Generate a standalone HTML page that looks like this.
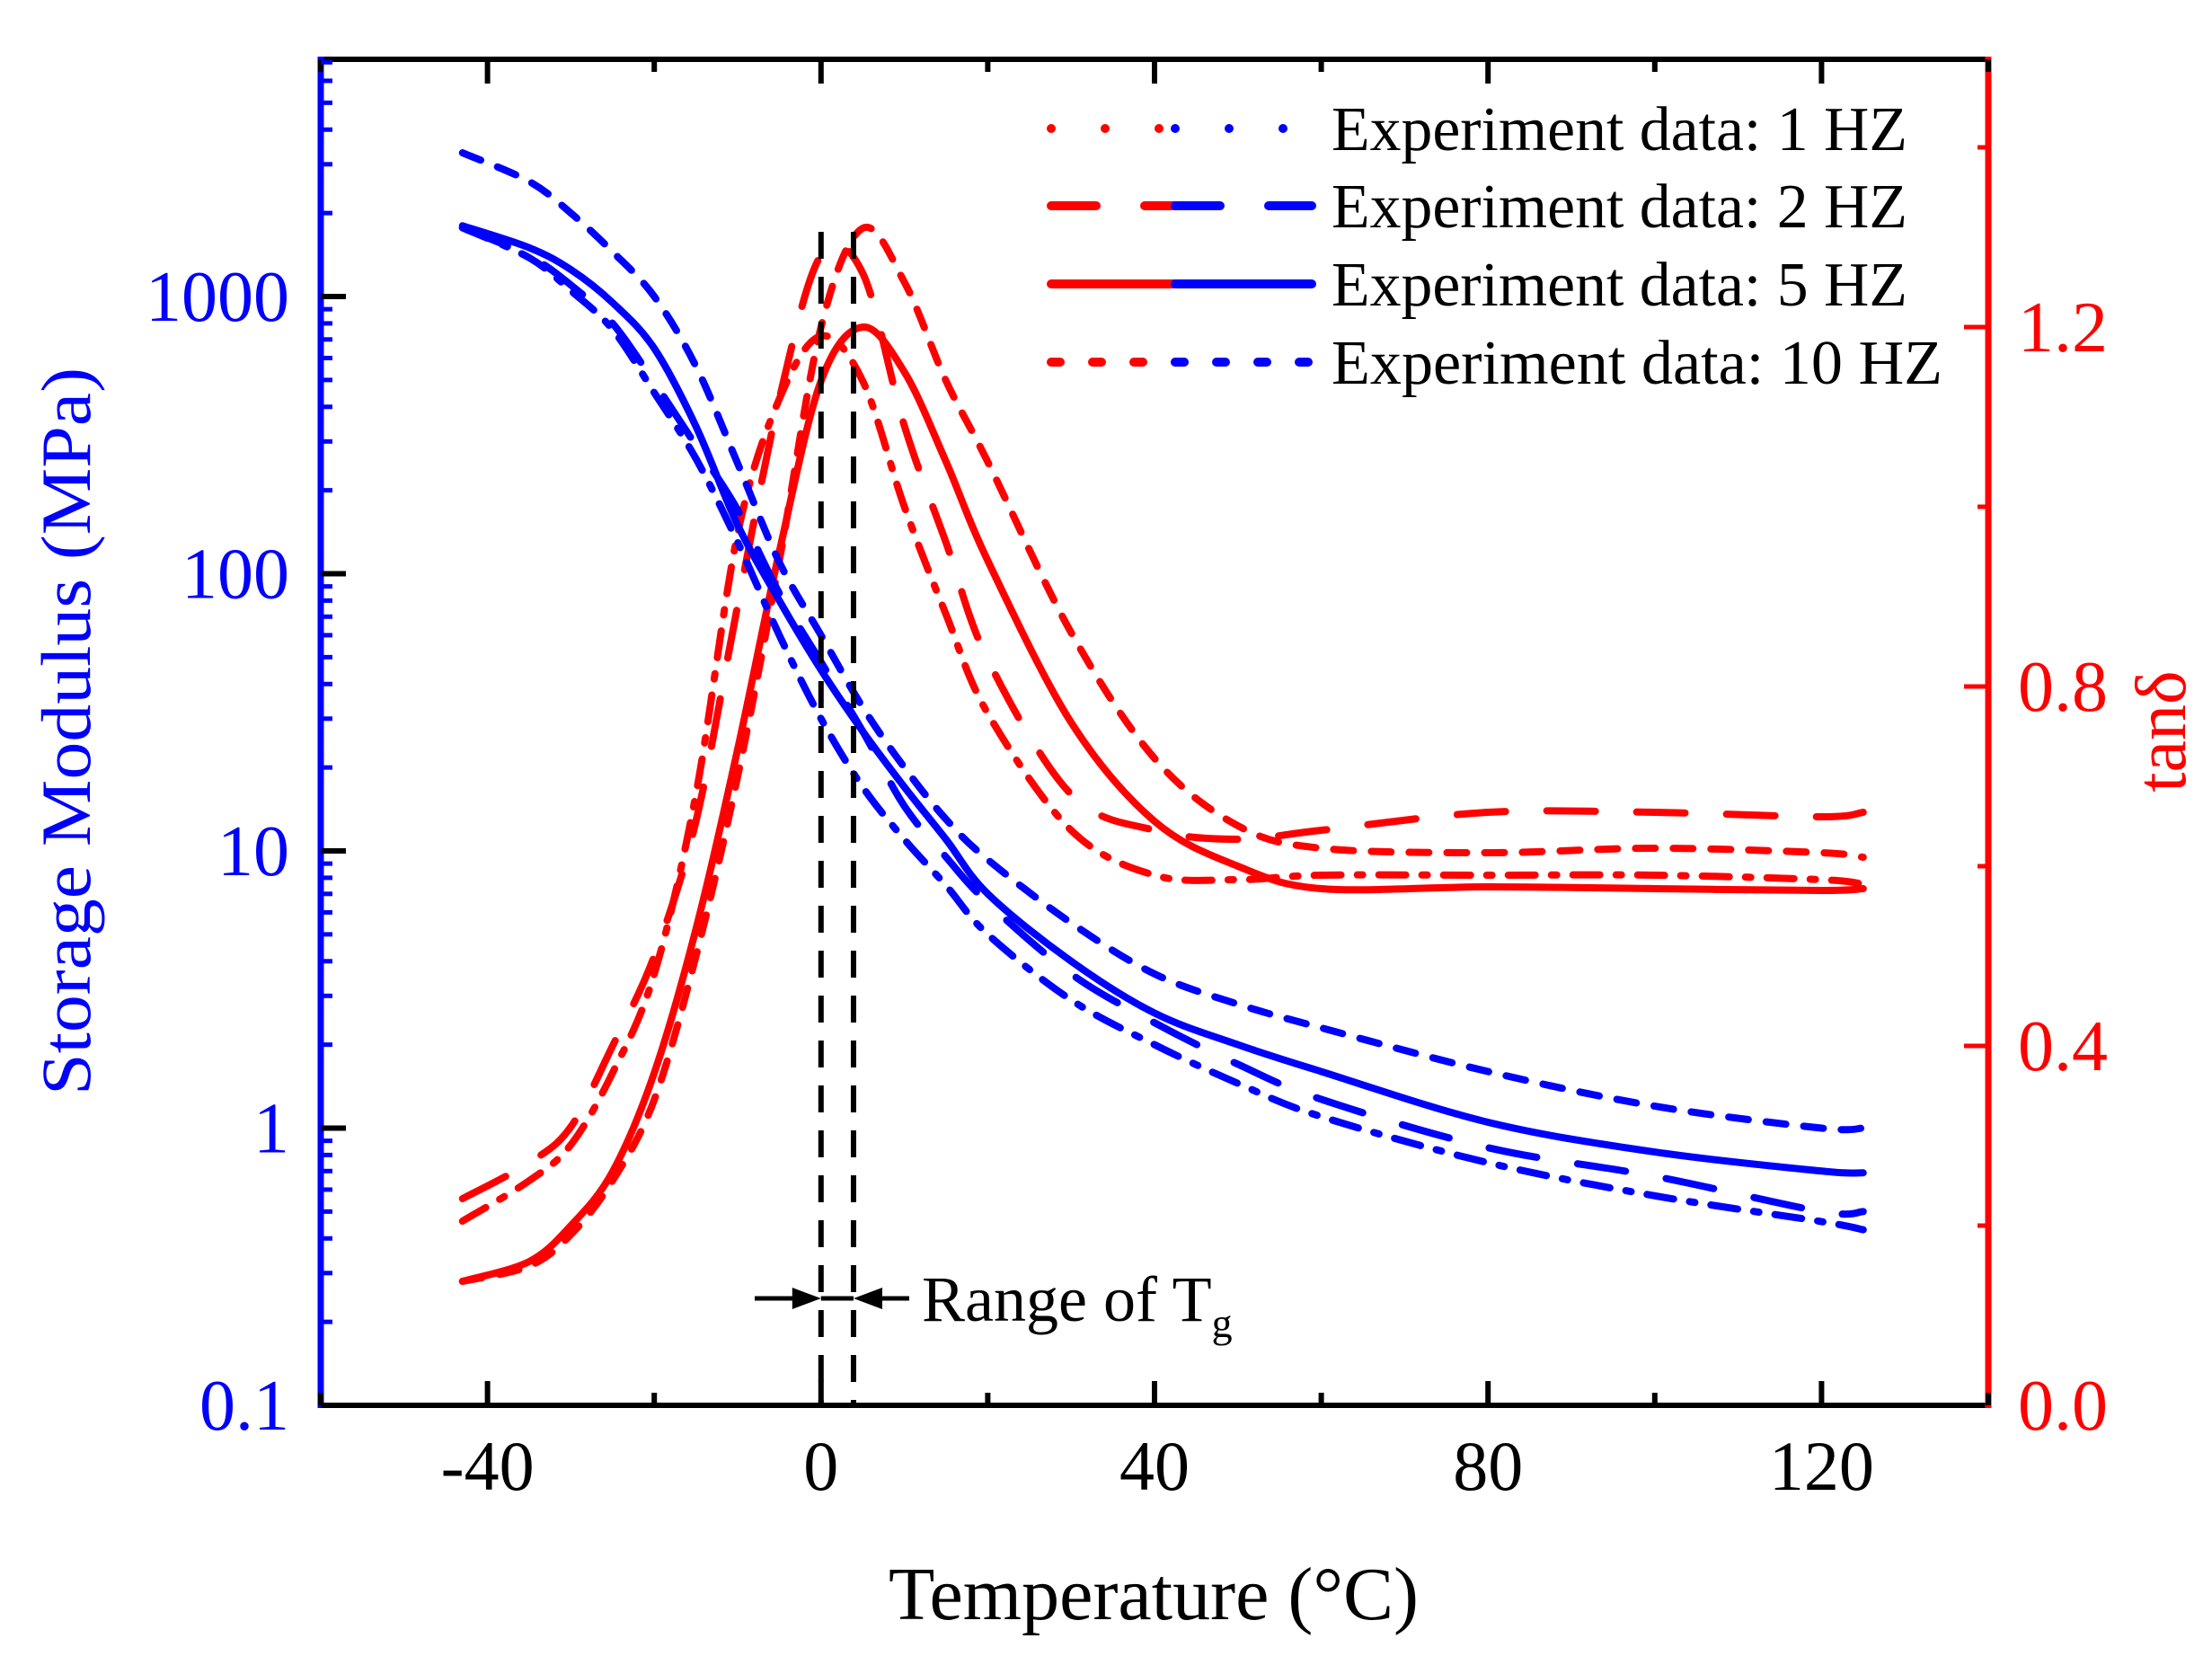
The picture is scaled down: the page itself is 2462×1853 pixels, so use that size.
<!DOCTYPE html>
<html><head><meta charset="utf-8"><style>
html,body{margin:0;padding:0;background:#fff}
svg{display:block}
text{font-family:"Liberation Serif",serif}
</style></head><body>
<svg id="chart" width="2462" height="1853" viewBox="0 0 2462 1853" xmlns="http://www.w3.org/2000/svg">
<g id="plot"></g>
</svg>
<script>
// ---- data ----
const temps = [-43,-35,-30,-25,-20,-15,-10,-5,0,5,10,15,20,30,40,50,60,80,100,120,125];
const modulus10 = [3300,2600,2000,1450,1000,560,250,110,60,33,20,13,9.3,5.5,3.6,2.8,2.3,1.6,1.2,1.0,1.0];
const modulus5  = [1800,1500,1250,950,650,340,150,80,45,27,17,11,7.0,4.0,2.6,2.0,1.6,1.05,0.82,0.70,0.69];
const modulus2  = [1770,1400,1100,800,490,290,170,85,48,27,14.5,9.5,6.5,3.6,2.4,1.7,1.27,0.85,0.67,0.50,0.50];
const modulus1  = [1770,1380,1050,760,450,260,130,60,30,17,11,7.5,5.0,2.9,2.0,1.45,1.1,0.75,0.57,0.46,0.43];
const tand10 = [0.138,0.155,0.19,0.25,0.34,0.50,0.70,0.94,1.20,1.31,1.25,1.14,1.05,0.86,0.72,0.645,0.62,0.615,0.62,0.615,0.61];
const tand5  = [0.138,0.16,0.20,0.26,0.37,0.53,0.73,0.95,1.14,1.20,1.15,1.05,0.94,0.76,0.65,0.60,0.575,0.577,0.575,0.573,0.575];
const tand2  = [0.23,0.27,0.31,0.40,0.50,0.65,0.89,1.12,1.28,1.26,1.09,0.96,0.83,0.68,0.64,0.63,0.64,0.66,0.66,0.655,0.66];
const tand1  = [0.205,0.25,0.29,0.37,0.48,0.68,0.97,1.12,1.19,1.14,1.00,0.88,0.77,0.64,0.59,0.585,0.59,0.59,0.59,0.585,0.58];
const xTicks = [-40,0,40,80,120];
const yLeftTicks = [0.1,1,10,100,1000];
const yLeftLabels = ["0.1","1","10","100","1000"];
const yRightTicks = [0,0.4,0.8,1.2];
const yRightLabels = ["0.0","0.4","0.8","1.2"];
const tgRange = [0,3.9];
const legendLabels = ["Experiment data: 1 HZ","Experiment data: 2 HZ","Experiment data: 5 HZ","Experiment data: 10 HZ"];

// ---- geometry ----
const L=357,R=2213,T=66,B=1564;
const xMin=-60,xMax=140;
const sx=v=>L+(v-xMin)/(xMax-xMin)*(R-L);
const decade=308.5;
const syL=v=>B-(Math.log10(v)+1)*decade;
const syR=v=>B-v*1000;
const NS="http://www.w3.org/2000/svg";
const g=document.getElementById('plot');
function mk(tag,attrs,parent){const e=document.createElementNS(NS,tag);for(const k in attrs)e.setAttribute(k,attrs[k]);(parent||g).appendChild(e);return e;}
function smooth(pts){let d=`M${pts[0][0]},${pts[0][1]}`;for(let i=0;i<pts.length-1;i++){const p0=pts[i-1]||pts[i],p1=pts[i],p2=pts[i+1],p3=pts[i+2]||p2;const c1=[p1[0]+(p2[0]-p0[0])/6,p1[1]+(p2[1]-p0[1])/6],c2=[p2[0]-(p3[0]-p1[0])/6,p2[1]-(p3[1]-p1[1])/6];d+=`C${c1[0]},${c1[1]} ${c2[0]},${c2[1]} ${p2[0]},${p2[1]}`;}return d;}

const dashes={"1":"30 18 6 18","2":"54 46","5":"","10":"22 20"};
const series=[
 ["tand-1hz",tand1,syR,"red","1"],["tand-2hz",tand2,syR,"red","2"],["tand-5hz",tand5,syR,"red","5"],["tand-10hz",tand10,syR,"red","10"],
 ["modulus-1hz",modulus1,syL,"blue","1"],["modulus-2hz",modulus2,syL,"blue","2"],["modulus-5hz",modulus5,syL,"blue","5"],["modulus-10hz",modulus10,syL,"blue","10"]];
series.forEach(s=>{
 const pts=temps.map((t,i)=>[sx(t),s[2](s[1][i])]);
 const p=mk('path',{d:smooth(pts),fill:'none',stroke:s[3],'stroke-width':8,'stroke-linecap':'round','stroke-dasharray':dashes[s[4]]});
 
 
});

// Tg lines
tgRange.forEach((t,i)=>{
 const l=mk('line',{x1:sx(t),x2:sx(t),y1:258,y2:B,stroke:'#000','stroke-width':6,'stroke-dasharray':'30 20'});
 
 
});
const ar=mk('g',{});


mk('line',{x1:840,x2:sx(tgRange[0])-30,y1:1445,y2:1445,stroke:'#000','stroke-width':5},ar);
mk('polygon',{points:`${sx(tgRange[0])},1445 ${sx(tgRange[0])-32},1433 ${sx(tgRange[0])-32},1457`,fill:'#000'},ar);
mk('line',{x1:sx(tgRange[0]),x2:sx(tgRange[1]),y1:1445,y2:1445,stroke:'#000','stroke-width':5},ar);
mk('line',{x1:sx(tgRange[1])+30,x2:1012,y1:1445,y2:1445,stroke:'#000','stroke-width':5},ar);
mk('polygon',{points:`${sx(tgRange[1])},1445 ${sx(tgRange[1])+32},1433 ${sx(tgRange[1])+32},1457`,fill:'#000'},ar);
const tg=mk('text',{x:1026,y:1470,'font-size':72,fill:'#000'});


tg.innerHTML='Range of T<tspan font-size="46" dy="18">g</tspan>';

// axes
const ax=mk('g',{});


mk('line',{x1:L-3,x2:R,y1:B,y2:B,stroke:'#000','stroke-width':6},ax);
mk('line',{x1:L,x2:R,y1:T,y2:T,stroke:'#000','stroke-width':6},ax);
mk('line',{x1:L,x2:L,y1:T-3,y2:B+3,stroke:'blue','stroke-width':7},ax);
mk('line',{x1:R,x2:R,y1:T-3,y2:B+3,stroke:'red','stroke-width':7},ax);
for(let v=-60;v<=140;v+=20){
 const maj=xTicks.includes(v), len=maj?27:14;
 mk('line',{x1:sx(v),x2:sx(v),y1:B,y2:B-len,stroke:'#000','stroke-width':6},ax);
 mk('line',{x1:sx(v),x2:sx(v),y1:T,y2:T+len,stroke:'#000','stroke-width':6},ax);
}
xTicks.forEach(v=>{
 const t=mk('text',{x:sx(v),y:1658,'font-size':78,'text-anchor':'middle',fill:'#000'});
 
 
 t.textContent=v;
});
for(let e=-1;e<4;e++){for(let m=1;m<10;m++){const v=m*Math.pow(10,e);const y=syL(v);if(y<T)break;
 if(m===1) mk('line',{x1:L,x2:L+28,y1:y,y2:y,stroke:'#000','stroke-width':6},ax);
 else mk('line',{x1:L,x2:L+13,y1:y,y2:y,stroke:'blue','stroke-width':5},ax);}}
yLeftTicks.forEach((v,i)=>{
 const t=mk('text',{x:322,y:syL(v)+27,'font-size':80,'text-anchor':'end',fill:'blue'});
 
 
 t.textContent=yLeftLabels[i];
});
for(let v=0.2;v<1.5;v+=0.2){const y=syR(v);const maj=Math.abs(v*10%4)<0.01||Math.abs(v*10%4-4)<0.01;
 mk('line',{x1:R,x2:R-(maj?27:12),y1:y,y2:y,stroke:'red','stroke-width':5},ax);}
yRightTicks.forEach((v,i)=>{
 const t=mk('text',{x:2246,y:syR(v)+27,'font-size':80,fill:'red'});
 
 
 t.textContent=yRightLabels[i];
});

// titles
const xt=mk('text',{x:1284,y:1802,'font-size':84,'text-anchor':'middle',fill:'#000',textLength:590,lengthAdjust:'spacingAndGlyphs'});


xt.textContent='Temperature (°C)';
const yt=mk('text',{x:0,y:0,'font-size':78,'text-anchor':'middle',fill:'blue',transform:'translate(100,814) rotate(-90)',textLength:810,lengthAdjust:'spacingAndGlyphs'});


yt.textContent='Storage Modulus (MPa)';
const rt=mk('text',{x:0,y:0,'font-size':80,'text-anchor':'middle',fill:'red',transform:'translate(2432,814) rotate(-90)'});


rt.textContent='tanδ';

// legend
const lg=mk('g',{});


const legRows=[143,229,316,403], legKeys=["1","2","5","10"];
legKeys.forEach((k,i)=>{
 const y=legRows[i];
 const e=mk('g',{},lg);
 
 
 mk('line',{x1:1170,x2:1320,y1:y,y2:y,stroke:'red','stroke-width':10,'stroke-linecap':'round','stroke-dasharray':k==="1"?"0 60":k==="2"?"50 54":k==="10"?"10 36":""},e);
 mk('line',{x1:1308,x2:1460,y1:y,y2:y,stroke:'blue','stroke-width':10,'stroke-linecap':'round','stroke-dasharray':k==="1"?"0 60":k==="2"?"50 54":k==="10"?"10 36":""},e);
 const t=mk('text',{x:1482,y:y+24,'font-size':70,fill:'#000',textLength:k==="10"?680:641,lengthAdjust:'spacingAndGlyphs'},e);
 t.textContent=legendLabels[i];
});
</script>
</body></html>
